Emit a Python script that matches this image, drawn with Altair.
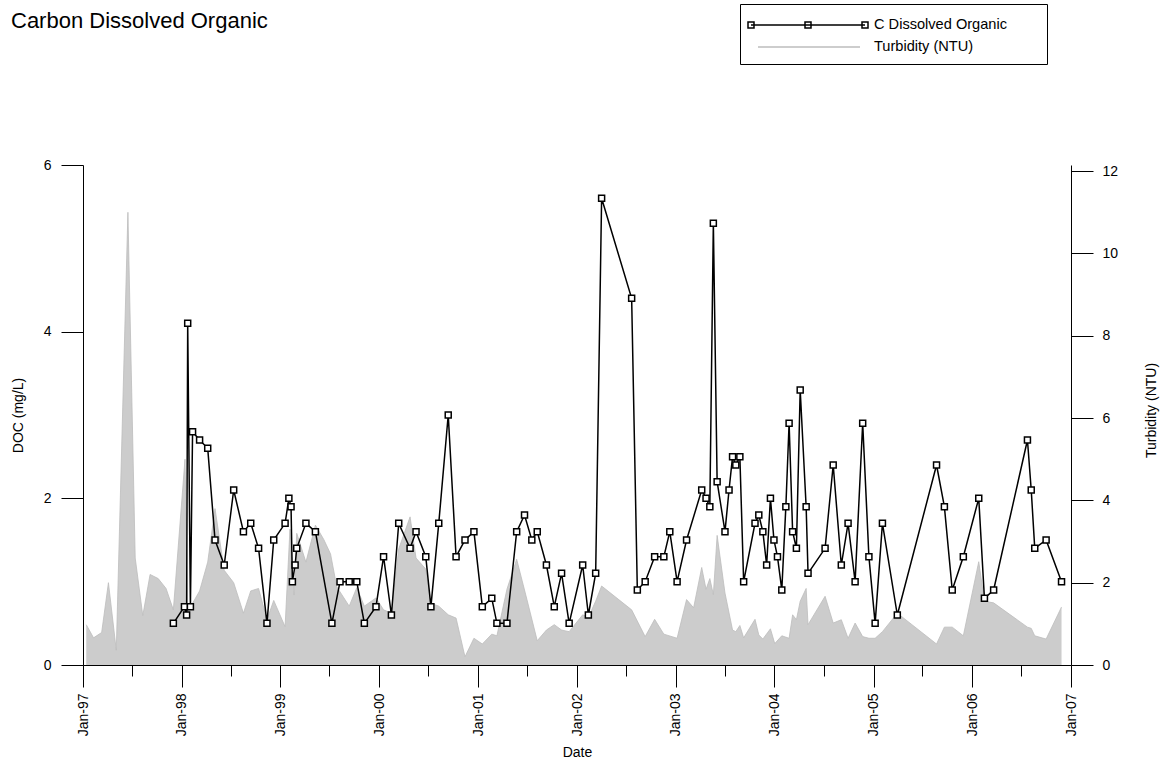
import altair as alt
import pandas as pd

FONT = "Liberation Sans"

series_names = ["C Dissolved Organic", "Turbidity (NTU)"]

doc_dates = [
    "1997-12-01", "1998-01-11", "1998-01-19", "1998-01-23", "1998-02-02", "1998-02-10",
    "1998-03-08", "1998-04-07", "1998-05-04", "1998-06-07", "1998-07-12", "1998-08-17",
    "1998-09-13", "1998-10-12", "1998-11-12", "1998-12-07", "1999-01-18", "1999-02-01",
    "1999-02-09", "1999-02-14", "1999-02-24", "1999-03-02", "1999-04-05", "1999-05-10",
    "1999-07-10", "1999-08-09", "1999-09-12", "1999-10-10", "1999-11-07", "1999-12-20",
    "2000-01-17", "2000-02-15", "2000-03-13", "2000-04-24", "2000-05-16", "2000-06-21",
    "2000-07-10", "2000-08-08", "2000-09-12", "2000-10-11", "2000-11-13", "2000-12-16",
    "2001-01-16", "2001-02-20", "2001-03-11", "2001-04-17", "2001-05-23", "2001-06-21",
    "2001-07-18", "2001-08-07", "2001-09-10", "2001-10-09", "2001-11-05", "2001-12-03",
    "2002-01-22", "2002-02-12", "2002-03-11", "2002-04-02", "2002-07-22", "2002-08-12",
    "2002-09-10", "2002-10-15", "2002-11-18", "2002-12-10", "2003-01-06", "2003-02-10",
    "2003-04-07", "2003-04-23", "2003-05-07", "2003-05-20", "2003-06-03", "2003-07-02",
    "2003-07-17", "2003-07-30", "2003-08-11", "2003-08-26", "2003-09-09", "2003-10-21",
    "2003-11-04", "2003-11-19", "2003-12-03", "2003-12-17", "2003-12-30", "2004-01-12",
    "2004-01-28", "2004-02-12", "2004-02-24", "2004-03-08", "2004-03-22", "2004-04-05",
    "2004-04-27", "2004-05-04", "2004-07-06", "2004-08-05", "2004-09-04", "2004-09-29",
    "2004-10-25", "2004-11-22", "2004-12-15", "2005-01-07", "2005-02-03", "2005-03-30",
    "2005-08-22", "2005-09-20", "2005-10-19", "2005-11-29", "2006-01-25", "2006-02-15",
    "2006-03-21", "2006-07-24", "2006-08-07", "2006-08-20", "2006-10-01", "2006-11-27",
]
doc_values = [
    0.5, 0.7, 0.6, 4.1, 0.7, 2.8,
    2.7, 2.6, 1.5, 1.2, 2.1, 1.6,
    1.7, 1.4, 0.5, 1.5, 1.7, 2.0,
    1.9, 1.0, 1.2, 1.4, 1.7, 1.6,
    0.5, 1.0, 1.0, 1.0, 0.5, 0.7,
    1.3, 0.6, 1.7, 1.4, 1.6, 1.3,
    0.7, 1.7, 3.0, 1.3, 1.5, 1.6,
    0.7, 0.8, 0.5, 0.5, 1.6, 1.8,
    1.5, 1.6, 1.2, 0.7, 1.1, 0.5,
    1.2, 0.6, 1.1, 5.6, 4.4, 0.9,
    1.0, 1.3, 1.3, 1.6, 1.0, 1.5,
    2.1, 2.0, 1.9, 5.3, 2.2, 1.6,
    2.1, 2.5, 2.4, 2.5, 1.0, 1.7,
    1.8, 1.6, 1.2, 2.0, 1.5, 1.3,
    0.9, 1.9, 2.9, 1.6, 1.4, 3.3,
    1.9, 1.1, 1.4, 2.4, 1.2, 1.7,
    1.0, 2.9, 1.3, 0.5, 1.7, 0.6,
    2.4, 1.9, 0.9, 1.3, 2.0, 0.8,
    0.9, 2.7, 2.1, 1.4, 1.5, 1.0,
]

turb_dates = [
    "1997-01-13", "1997-02-09", "1997-03-11", "1997-04-05", "1997-05-04", "1997-06-16",
    "1997-07-13", "1997-08-10", "1997-09-06", "1997-10-06", "1997-11-04", "1997-12-01",
    "1998-01-13", "1998-01-23", "1998-02-10", "1998-03-08", "1998-04-07", "1998-05-04",
    "1998-06-07", "1998-07-12", "1998-08-17", "1998-09-13", "1998-10-12", "1998-11-12",
    "1998-12-07", "1999-01-18", "1999-02-05", "1999-02-20", "1999-03-02", "1999-04-05",
    "1999-05-10", "1999-06-10", "1999-07-05", "1999-07-28", "1999-09-12", "1999-10-10",
    "1999-11-07", "1999-12-20", "2000-01-17", "2000-02-15", "2000-03-13", "2000-04-24",
    "2000-05-16", "2000-06-21", "2000-07-10", "2000-08-08", "2000-09-12", "2000-10-11",
    "2000-11-13", "2000-12-16", "2001-01-16", "2001-02-20", "2001-03-11", "2001-04-17",
    "2001-05-23", "2001-06-30", "2001-08-07", "2001-09-10", "2001-10-09", "2001-11-05",
    "2001-12-03", "2002-01-22", "2002-02-12", "2002-03-11", "2002-04-02", "2002-07-22",
    "2002-09-10", "2002-10-15", "2002-11-18", "2003-01-06", "2003-02-10", "2003-03-08",
    "2003-04-07", "2003-04-23", "2003-05-07", "2003-05-20", "2003-06-03", "2003-07-02",
    "2003-07-30", "2003-08-11", "2003-08-26", "2003-09-09", "2003-10-21", "2003-11-04",
    "2003-11-19", "2003-12-17", "2004-01-02", "2004-01-28", "2004-02-24", "2004-03-08",
    "2004-03-22", "2004-04-05", "2004-04-27", "2004-05-04", "2004-07-06", "2004-08-05",
    "2004-09-04", "2004-09-29", "2004-10-25", "2004-11-22", "2004-12-15", "2005-01-07",
    "2005-02-03", "2005-03-30", "2005-08-22", "2005-09-20", "2005-10-19", "2005-11-29",
    "2006-01-25", "2006-02-15", "2006-03-21", "2006-07-24", "2006-08-07", "2006-08-20",
    "2006-10-01", "2006-11-27",
]
turb_values = [
    0.98, 0.66, 0.79, 2.0, 0.36, 11.0,
    2.6, 1.2, 2.2, 2.1, 1.86, 1.34,
    5.0, 1.35, 1.5, 1.8, 2.5, 3.8,
    2.3, 2.0, 1.26, 1.8, 1.86, 1.1,
    1.57, 0.93, 3.3, 1.7, 3.2, 2.5,
    3.4, 3.05, 2.7, 1.9, 1.43, 1.88,
    1.43, 1.63, 1.34, 1.26, 2.82, 3.6,
    2.6, 2.33, 1.5, 1.43, 1.22, 1.14,
    0.2, 0.65, 0.51, 0.75, 0.71, 1.84,
    2.57, 1.59, 0.59, 0.85, 0.98, 0.85,
    0.81, 1.22, 1.16, 1.55, 1.92, 1.34,
    0.69, 1.11, 0.75, 0.65, 1.59, 1.39,
    2.37, 1.84, 2.1, 1.71, 3.15, 1.75,
    0.85, 0.81, 0.96, 0.66, 1.11, 0.73,
    0.63, 0.88, 0.52, 0.71, 0.65, 1.22,
    1.1, 1.55, 1.86, 0.98, 1.67, 1.02,
    1.1, 0.65, 1.02, 0.69, 0.65, 0.65,
    0.81, 1.26, 0.51, 0.92, 0.92, 0.71,
    2.51, 1.55, 1.51, 0.92, 0.89, 0.71,
    0.63, 1.41,
]

doc_ticks = [0, 2, 4, 6]
turb_ticks = [0, 2, 4, 6, 8, 10, 12]

doc_df = pd.DataFrame({"date": doc_dates, "doc": doc_values})
turb_df = pd.DataFrame({"date": turb_dates, "turb": turb_values})
legend_df = pd.DataFrame({"series": series_names})

tick_dates = [
    alt.DateTime(year=y, month=m, date=1, utc=True)
    for y in range(1997, 2008)
    for m in (1, 7)
    if not (y == 2007 and m == 7)
]

x_enc = alt.X(
    "date:T",
    scale=alt.Scale(
        type="utc",
        domain=[alt.DateTime(year=1997, month=1, date=1, utc=True),
                alt.DateTime(year=2007, month=1, date=1, utc=True)],
        nice=False,
    ),
    axis=alt.Axis(
        values=tick_dates,
        labelExpr="utcmonth(datum.value) == 0 ? utcFormat(datum.value, '%b-%y') : ''",
        labelAngle=270,
        labelFont=FONT,
        labelFontSize=14,
        labelColor="black",
        labelPadding=6,
        labelOverlap=False,
        labelFlush=False,
        tickSize={"condition": {"test": "utcmonth(datum.value) == 0", "value": 22}, "value": 11},
        tickColor="black",
        domainColor="black",
        grid=False,
        title="Date",
        titleFont=FONT,
        titleFontSize=14,
        titleFontWeight="normal",
        titleColor="black",
        titleY=87,
        titleBaseline="middle",
    ),
)

area = alt.Chart(turb_df).mark_area(
    color="#cccccc", opacity=1, line={"color": "#bdbdbd", "strokeWidth": 0.8}
).encode(
    x=x_enc,
    y=alt.Y(
        "turb:Q",
        scale=alt.Scale(domain=[0, 12.15], nice=False),
        axis=alt.Axis(
            orient="right",
            values=turb_ticks,
            tickSize=22,
            tickColor="black",
            domainColor="black",
            labelFont=FONT,
            labelFontSize=14,
            labelColor="black",
            labelPadding=9,
            grid=False,
            title="Turbidity (NTU)",
            titleFont=FONT,
            titleFontSize=14,
            titleFontWeight="normal",
            titleColor="black",
            titleAngle=270,
            titleX=80,
            titleY=245,
            titleAlign="center",
            titleBaseline="middle",
        ),
    ),
)

y_doc = alt.Y(
    "doc:Q",
    scale=alt.Scale(domain=[0, 6], nice=False),
    axis=alt.Axis(
        orient="left",
        values=doc_ticks,
        tickSize=22,
        tickColor="black",
        domainColor="black",
        labelFont=FONT,
        labelFontSize=14,
        labelColor="black",
        labelPadding=10,
        grid=False,
        title="DOC (mg/L)",
        titleFont=FONT,
        titleFontSize=14,
        titleFontWeight="normal",
        titleColor="black",
        titleAngle=270,
        titleX=-65,
        titleY=250,
        titleAlign="center",
        titleBaseline="middle",
    ),
)

line = alt.Chart(doc_df).mark_line(color="black", strokeWidth=1.5).encode(x=x_enc, y=y_doc)

points = alt.Chart(doc_df).mark_point(
    shape="square", size=36, filled=True, fill="white", stroke="black",
    strokeWidth=1.5, opacity=1
).encode(x=x_enc, y=y_doc)

doc_layer = alt.layer(line, points)

# legend-only helper layer (invisible marks, visible legend)
# symbol unit = 10 px (symbolSize 400); paths reach beyond the unit box
doc_path = ("M-1,0H10.4"
            "M-1.3,-0.3h0.6v0.6h-0.6z"
            "M4.4,-0.3h0.6v0.6h-0.6z"
            "M10.1,-0.3h0.6v0.6h-0.6z")
turb_path = "M-0.3,0H9.9"

legend = alt.Legend(
    orient="none",
    legendX=657,
    legendY=-161,
    title="\u00a0",
    titleOrient="right",
    titlePadding=30,
    titleFontSize=6,
    strokeColor="black",
    fillColor="white",
    padding=10,
    rowPadding=4,
    labelFont=FONT,
    labelFontSize=14.6,
    labelColor="black",
    labelOffset=102,
    labelLimit=400,
    symbolSize=400,
    symbolStrokeWidth=1.5,
    symbolOpacity=1,
    symbolFillColor="transparent",
)

legend_layer = alt.Chart(legend_df).mark_point(opacity=0, filled=False).encode(
    shape=alt.Shape("series:N", scale=alt.Scale(domain=series_names, range=[doc_path, turb_path]), legend=legend),
    stroke=alt.Stroke("series:N", scale=alt.Scale(domain=series_names, range=["black", "#bdbdbd"]), legend=legend),
)

chart = alt.layer(area, doc_layer, legend_layer).resolve_scale(y="independent").properties(
    width=988,
    height=500,
    padding={"left": 83, "top": 165, "right": 99, "bottom": 97},
    autosize=alt.AutoSizeParams(type="none"),
    background="white",
    title=alt.TitleParams(
        "Carbon Dissolved Organic",
        anchor="start",
        font=FONT,
        fontSize=22,
        fontWeight="normal",
        color="black",
        dx=0,
        dy=33,
    ),
).configure_view(stroke=None)

chart.save("out.html", embed_options={"renderer": "svg", "actions": False})
